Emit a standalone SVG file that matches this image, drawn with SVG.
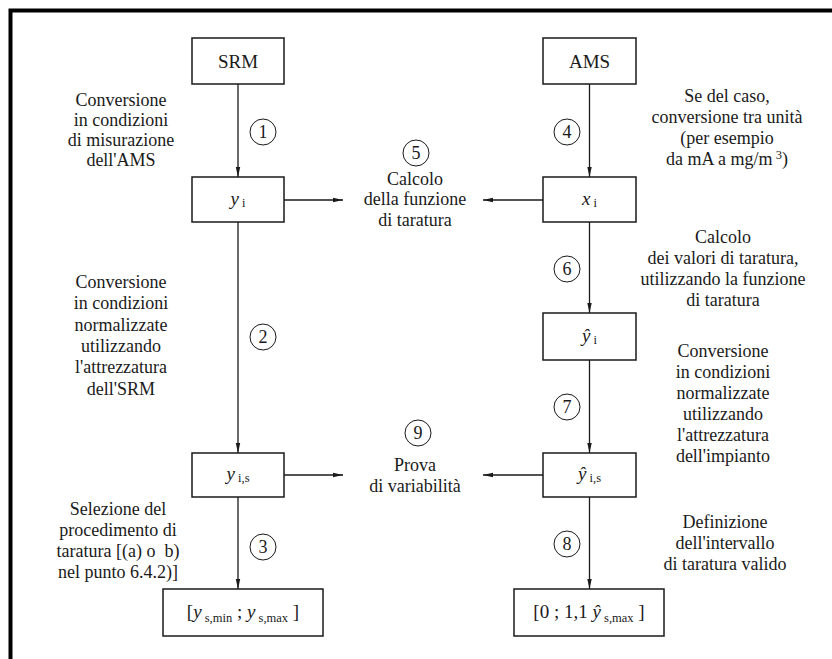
<svg xmlns="http://www.w3.org/2000/svg" width="832" height="659" viewBox="0 0 832 659">
<defs>
<style>
.t{text-anchor:middle}
.box{fill:#fff;stroke:#1a1a1a;stroke-width:1.5}
.ln{fill:none;stroke:#1a1a1a;stroke-width:1.3}
.circ{fill:none;stroke:#1a1a1a;stroke-width:1}
.it{font-style:italic}
.sub{font-size:12.5px}
.lbl{font-size:19px}
</style>
<marker id="ah" viewBox="0 0 10 6" refX="10" refY="3" markerWidth="10" markerHeight="6" markerUnits="userSpaceOnUse" orient="auto">
<path d="M0,0.8 L10,3 L0,5.2 Z" fill="#1a1a1a"/>
</marker>
</defs>
<rect width="832" height="659" fill="#fff"/>
<path d="M10.5,659 V10.5 H832" fill="none" stroke="#000" stroke-width="4"/>

<g id="connectors">
<line class="ln" x1="238" y1="84" x2="238" y2="177" marker-end="url(#ah)"/>
<line class="ln" x1="238" y1="222" x2="238" y2="453" marker-end="url(#ah)"/>
<line class="ln" x1="238" y1="497" x2="238" y2="589" marker-end="url(#ah)"/>
<line class="ln" x1="589.5" y1="84" x2="589.5" y2="177" marker-end="url(#ah)"/>
<line class="ln" x1="589.5" y1="222" x2="589.5" y2="313" marker-end="url(#ah)"/>
<line class="ln" x1="589.5" y1="360" x2="589.5" y2="453" marker-end="url(#ah)"/>
<line class="ln" x1="589.5" y1="497" x2="589.5" y2="589" marker-end="url(#ah)"/>
<line class="ln" x1="284" y1="200" x2="343" y2="200" marker-end="url(#ah)"/>
<line class="ln" x1="543" y1="200" x2="483" y2="200" marker-end="url(#ah)"/>
<line class="ln" x1="284" y1="475" x2="343" y2="475" marker-end="url(#ah)"/>
<line class="ln" x1="543" y1="475" x2="483" y2="475" marker-end="url(#ah)"/>
</g>

<g font-family="'Liberation Serif', 'Times New Roman', 'DejaVu Serif', serif" font-size="18" fill="#1a1a1a">
<g id="srm">
<rect class="box" x="192" y="38" width="92" height="46"/>
<text class="t lbl" x="238" y="68">SRM</text>
</g>
<g id="ams">
<rect class="box" x="543" y="38" width="93" height="46"/>
<text class="t lbl" x="589.5" y="68">AMS</text>
</g>
<g id="yi">
<rect class="box" x="192" y="177" width="92" height="45"/>
<text class="t lbl" x="238" y="205"><tspan class="it">y</tspan><tspan class="sub" dy="2"> i</tspan></text>
</g>
<g id="xi">
<rect class="box" x="543" y="177" width="93" height="45"/>
<text class="t lbl" x="589.5" y="205"><tspan class="it">x</tspan><tspan class="sub" dy="2"> i</tspan></text>
</g>
<g id="yhat-i">
<rect class="box" x="543" y="313" width="93" height="47"/>
<text class="t lbl" x="589.5" y="342"><tspan class="it">ŷ</tspan><tspan class="sub" dy="2"> i</tspan></text>
</g>
<g id="yis">
<rect class="box" x="192" y="453" width="92" height="44"/>
<text class="t lbl" x="238" y="480"><tspan class="it">y</tspan><tspan class="sub" dy="2"> i,s</tspan></text>
</g>
<g id="yhat-is">
<rect class="box" x="543" y="453" width="93" height="44"/>
<text class="t lbl" x="589.5" y="480"><tspan class="it">ŷ</tspan><tspan class="sub" dy="2"> i,s</tspan></text>
</g>
<g id="range-srm">
<rect class="box" x="163" y="589" width="160" height="47"/>
<text class="t lbl" x="243" y="618">[<tspan class="it">y</tspan><tspan class="sub" dy="4"> s,min</tspan><tspan dy="-4"> ; </tspan><tspan class="it">y</tspan><tspan class="sub" dy="4"> s,max</tspan><tspan dy="-4"> ]</tspan></text>
</g>
<g id="range-ams">
<rect class="box" x="514" y="589" width="150" height="47"/>
<text class="t lbl" x="589" y="618">[0 ; 1,1 <tspan class="it">ŷ</tspan><tspan class="sub" dy="4"> s,max</tspan><tspan dy="-4"> ]</tspan></text>
</g>

<g id="step1">
<circle class="circ" cx="263" cy="132" r="13"/>
<text class="t" x="263" y="138">1</text>
<text class="t" x="121" y="106">Conversione</text>
<text class="t" x="121" y="126">in condizioni</text>
<text class="t" x="121" y="146">di misurazione</text>
<text class="t" x="121" y="166">dell'AMS</text>
</g>
<g id="step2">
<circle class="circ" cx="263" cy="337" r="13"/>
<text class="t" x="263" y="343">2</text>
<text class="t" x="121" y="288">Conversione</text>
<text class="t" x="121" y="309">in condizioni</text>
<text class="t" x="121" y="331">normalizzate</text>
<text class="t" x="121" y="352">utilizzando</text>
<text class="t" x="121" y="373">l'attrezzatura</text>
<text class="t" x="121" y="395">dell'SRM</text>
</g>
<g id="step3">
<circle class="circ" cx="263" cy="547" r="13"/>
<text class="t" x="263" y="553">3</text>
<text class="t" x="118" y="515">Selezione del</text>
<text class="t" x="118" y="536">procedimento di</text>
<text class="t" x="118" y="557" xml:space="preserve">taratura [(a) o  b)</text>
<text class="t" x="118" y="578">nel punto 6.4.2)]</text>
</g>
<g id="step4">
<circle class="circ" cx="567" cy="132" r="13"/>
<text class="t" x="567" y="138">4</text>
<text class="t" x="727" y="102">Se del caso,</text>
<text class="t" x="727" y="123">conversione tra unità</text>
<text class="t" x="727" y="144">(per esempio</text>
<text class="t" x="727" y="165">da mA a mg/m<tspan font-size="12.5" dy="-6"> 3</tspan><tspan dy="6">)</tspan></text>
</g>
<g id="step5">
<circle class="circ" cx="416" cy="153" r="13"/>
<text class="t" x="416" y="159">5</text>
<text class="t" x="415" y="185">Calcolo</text>
<text class="t" x="415" y="205">della funzione</text>
<text class="t" x="415" y="226">di taratura</text>
</g>
<g id="step6">
<circle class="circ" cx="567" cy="269" r="13"/>
<text class="t" x="567" y="275">6</text>
<text class="t" x="723" y="243">Calcolo</text>
<text class="t" x="723" y="264">dei valori di taratura,</text>
<text class="t" x="723" y="285">utilizzando la funzione</text>
<text class="t" x="723" y="306">di taratura</text>
</g>
<g id="step7">
<circle class="circ" cx="567" cy="407" r="13"/>
<text class="t" x="567" y="413">7</text>
<text class="t" x="723" y="357">Conversione</text>
<text class="t" x="723" y="378">in condizioni</text>
<text class="t" x="723" y="399">normalizzate</text>
<text class="t" x="723" y="420">utilizzando</text>
<text class="t" x="723" y="441">l'attrezzatura</text>
<text class="t" x="723" y="462">dell'impianto</text>
</g>
<g id="step8">
<circle class="circ" cx="567" cy="544" r="13"/>
<text class="t" x="567" y="550">8</text>
<text class="t" x="725" y="528">Definizione</text>
<text class="t" x="725" y="549">dell'intervallo</text>
<text class="t" x="725" y="570">di taratura valido</text>
</g>
<g id="step9">
<circle class="circ" cx="418" cy="433" r="13"/>
<text class="t" x="418" y="439">9</text>
<text class="t" x="415" y="471">Prova</text>
<text class="t" x="415" y="492">di variabilità</text>
</g>
</g>
</svg>
